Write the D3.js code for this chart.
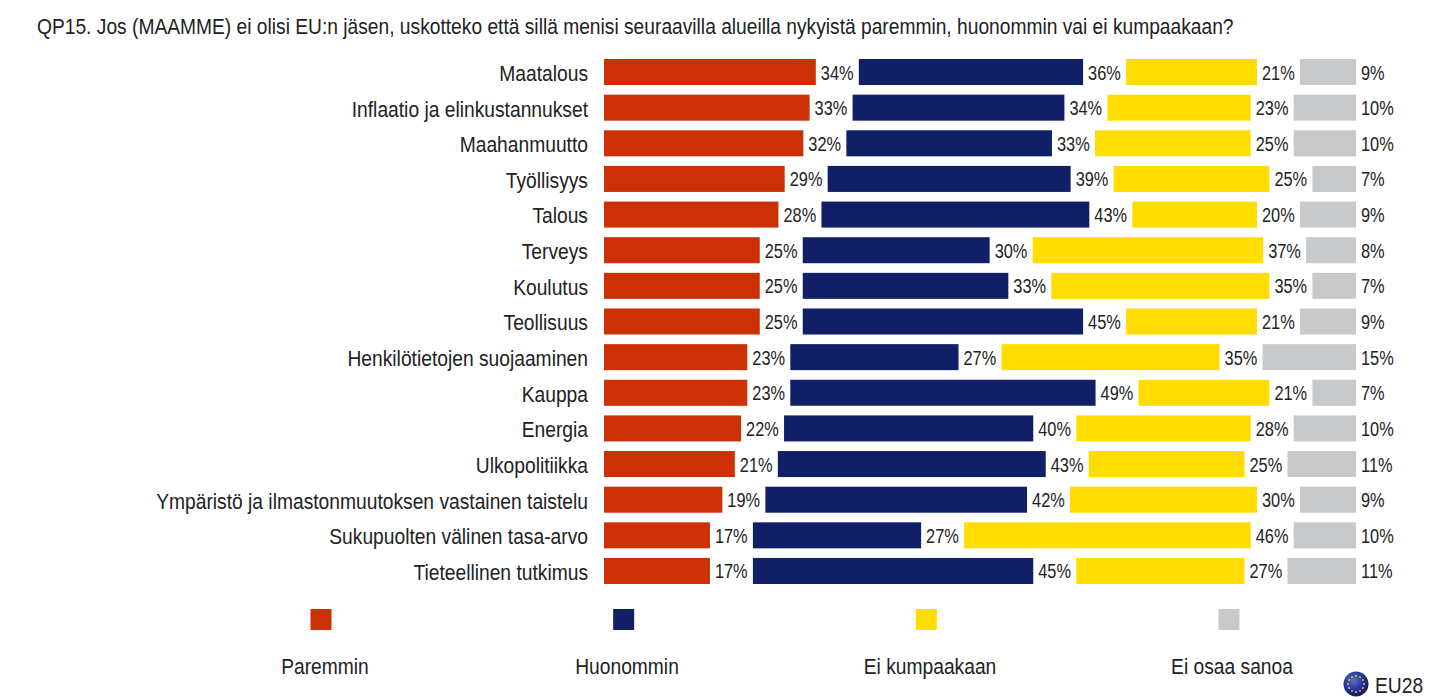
<!DOCTYPE html>
<html><head><meta charset="utf-8">
<script src="https://cdn.jsdelivr.net/npm/d3@7/dist/d3.min.js"></script>
<style>html,body{margin:0;padding:0;background:#fff}svg{display:block}text{font-family:"Liberation Sans",Arial,sans-serif;fill:#222}</style>
</head><body><svg id="c" width="1437" height="700"></svg>
<script>
const title="QP15. Jos (MAAMME) ei olisi EU:n jäsen, uskotteko että sillä menisi seuraavilla alueilla nykyistä paremmin, huonommin vai ei kumpaakaan?";
const categories=["Maatalous","Inflaatio ja elinkustannukset","Maahanmuutto","Työllisyys","Talous","Terveys","Koulutus","Teollisuus","Henkilötietojen suojaaminen","Kauppa","Energia","Ulkopolitiikka","Ympäristö ja ilmastonmuutoksen vastainen taistelu","Sukupuolten välinen tasa-arvo","Tieteellinen tutkimus"];
const seriesNames=["Paremmin","Huonommin","Ei kumpaakaan","Ei osaa sanoa"];
const colors=["#cc3105","#101f66","#ffdd00","#c8c9cb"];
const paremmin=[34,33,32,29,28,25,25,25,23,23,22,21,19,17,17];
const huonommin=[36,34,33,39,43,30,33,45,27,49,40,43,42,27,45];
const eiKumpaakaan=[21,23,25,25,20,37,35,21,35,21,28,25,30,46,27];
const eiOsaa=[9,10,10,7,9,8,7,9,15,7,10,11,9,10,11];
const series=[paremmin,huonommin,eiKumpaakaan,eiOsaa];

const svg=d3.select("#c");
const gap=43;
const k=d3.scaleLinear().domain([0,100]).range([0,623]);
const y=d3.scaleBand().domain(categories).range([54.2,588.8]).paddingInner(0.27).paddingOuter(0.135);
const left=604;
function txt(x,yy,s,size,sx,anchor){
  return svg.append("text").attr("transform",`translate(${x},${yy}) scale(${sx},1)`)
    .attr("text-anchor",anchor||"start").attr("dominant-baseline","central")
    .style("font-size",size+"px").text(s);
}
txt(37,26.5,title,21.5,0.894);
categories.forEach((c,i)=>{
  txt(588,y(c)+y.bandwidth()/2+1.5,c,21.5,0.895,"end");
  let cum=0;
  series.forEach((s,j)=>{
    const x0=left+k(cum)+j*gap, w=k(s[i]);
    svg.append("rect").attr("x",x0).attr("y",y(c)).attr("width",w).attr("height",y.bandwidth()).attr("fill",colors[j]);
    txt(x0+w+5,y(c)+y.bandwidth()/2+1,s[i]+"%",19.5,0.84);
    cum+=s[i];
  });
});
const lx=d3.scalePoint().domain(seriesNames).range([321,1229]);
const textX=[325,627,930,1232];
seriesNames.forEach((n,j)=>{
  svg.append("rect").attr("x",lx(n)-10.5).attr("y",609).attr("width",21).attr("height",21).attr("fill",colors[j]);
  txt(textX[j],667,n,21.5,0.895,"middle");
});
const defs=svg.append("defs");
const g=defs.append("radialGradient").attr("id","glb").attr("cx","40%").attr("cy","35%").attr("r","70%");
g.append("stop").attr("offset","0%").attr("stop-color","#5a6fc8");
g.append("stop").attr("offset","60%").attr("stop-color","#1f2f96");
g.append("stop").attr("offset","100%").attr("stop-color","#0b1350");
svg.append("circle").attr("cx",1356).attr("cy",684).attr("r",12.5).attr("fill","url(#glb)");
d3.range(12).forEach(i=>{
  const a=i*Math.PI/6;
  svg.append("circle").attr("cx",1356+8*Math.cos(a)).attr("cy",684+8*Math.sin(a)).attr("r",0.9).attr("fill","#f5d90a");
});
txt(1375,685,"EU28",22,0.877);
</script></body></html>
